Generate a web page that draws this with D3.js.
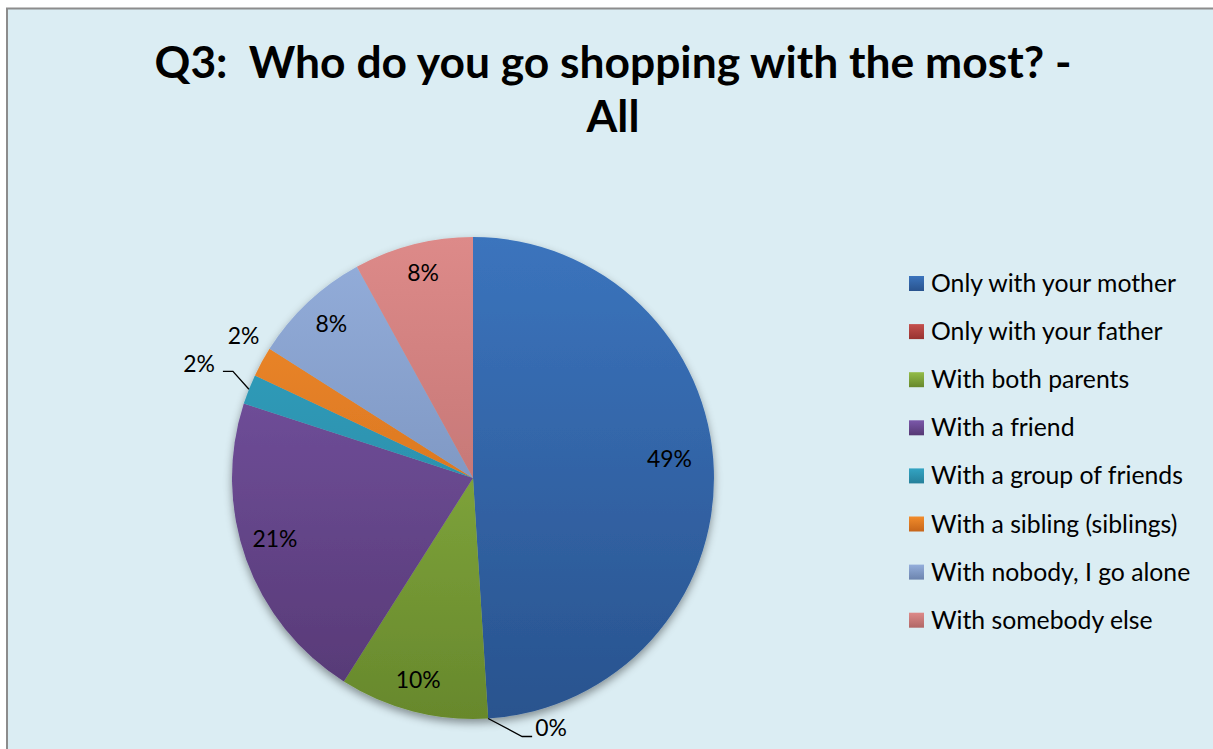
<!DOCTYPE html>
<html>
<head>
<meta charset="utf-8">
<script src="https://cdn.jsdelivr.net/npm/d3@7"></script>
<style>
  body { margin: 0; background: #ffffff; }
  svg { display: block; }
  text { font-family: Lato, "Open Sans", "Liberation Sans", sans-serif; fill: #000; }
</style>
</head>
<body>
<svg id="chart" width="1213" height="749"></svg>
<script>
// Survey answers, in pie order (clockwise from 12 o'clock)
const categories = [
  "Only with your mother",
  "Only with your father",
  "With both parents",
  "With a friend",
  "With a group of friends",
  "With a sibling (siblings)",
  "With nobody, I go alone",
  "With somebody else"
];
const percentValues = [49, 0, 10, 21, 2, 2, 8, 8];
const titleLines = ["Q3:  Who do you go shopping with the most? -", "All"];

// Slice shading: lighter at the top of the pie, darker at the bottom
const colorsTop    = ["#3b74bd", "#c4504d", "#93bc48", "#7b58aa", "#33a4c3", "#f28c2b", "#94aedb", "#dd8a89"];
const colorsBottom = ["#29538e", "#983230", "#67882c", "#553873", "#25809a", "#c6651a", "#6c84ae", "#b16766"];

const svg = d3.select("#chart");
const W = 1213, H = 749;

const defs = svg.append("defs");

// Chart area
svg.append("rect")
  .attr("x", 7).attr("y", 8.5)
  .attr("width", W + 20).attr("height", H + 20)
  .attr("fill", "#dbedf3")
  .attr("stroke", "#8c8c8c")
  .attr("stroke-width", 2);

// Title
const title = svg.append("g").attr("font-weight", "bold").attr("text-anchor", "middle");
const titleX = 613;
const t1 = title.append("text")
  .attr("x", titleX).attr("y", 78)
  .attr("font-size", 40)
  .style("white-space", "pre")
  .text(titleLines[0]);
const titleSize = 40 * 917 / t1.node().getComputedTextLength();
t1.attr("font-size", titleSize);
title.append("text")
  .attr("x", titleX).attr("y", 132)
  .attr("font-size", titleSize)
  .text(titleLines[1]);

// Pie geometry
const cx = 473, cy = 478, R = 241;

// Gradients live in the pie group's local space (centre at 0,0)
const grads = percentValues.map((v, i) => {
  const id = "slice-grad-" + i;
  const g = defs.append("linearGradient")
    .attr("id", id)
    .attr("gradientUnits", "userSpaceOnUse")
    .attr("x1", 0).attr("x2", 0)
    .attr("y1", -R).attr("y2", R);
  g.append("stop").attr("offset", "0%").attr("stop-color", colorsTop[i]);
  g.append("stop").attr("offset", "100%").attr("stop-color", colorsBottom[i]);
  return "url(#" + id + ")";
});

const legendGrads = percentValues.map((v, i) => {
  const id = "legend-grad-" + i;
  const g = defs.append("linearGradient")
    .attr("id", id)
    .attr("x1", 0).attr("x2", 0).attr("y1", 0).attr("y2", 1);
  g.append("stop").attr("offset", "0%").attr("stop-color", colorsTop[i]);
  g.append("stop").attr("offset", "100%").attr("stop-color", colorsBottom[i]);
  return "url(#" + id + ")";
});

const shadow = defs.append("filter")
  .attr("id", "pie-shadow")
  .attr("x", "-20%").attr("y", "-20%").attr("width", "140%").attr("height", "140%");
shadow.append("feDropShadow")
  .attr("dx", 0).attr("dy", 4)
  .attr("stdDeviation", 4)
  .attr("flood-color", "#000")
  .attr("flood-opacity", 0.4);

const pie = d3.pie().sort(null).value(d => d);
const arcs = pie(percentValues);
const arc = d3.arc().innerRadius(0).outerRadius(R);

const pieG = svg.append("g")
  .attr("transform", `translate(${cx},${cy})`);

pieG.append("g")
  .attr("filter", "url(#pie-shadow)")
  .selectAll("path")
  .data(arcs)
  .join("path")
  .attr("d", arc)
  .attr("fill", (d, i) => grads[i]);

// Data labels
const labelArc = d3.arc().innerRadius(R * 0.865).outerRadius(R * 0.865);
const labelFont = 22;
const probe = svg.append("text").attr("font-size", labelFont).text("49%");
const labelSize = labelFont * 45 / probe.node().getComputedTextLength();
probe.remove();

const pct = d => d.data + "%";
const mid = d => (d.startAngle + d.endAngle) / 2;
const edgePoint = (d, r) => [Math.sin(mid(d)) * r, -Math.cos(mid(d)) * r];

// How each label is placed: inside at the centroid, or outside (with an optional leader)
const labelLayout = [
  { mode: "inside", nudge: [-12, -13] },
  { mode: "leader", elbow: [34, 18], run: 10, side: "right" },
  { mode: "inside", nudge: [-3, 0] },
  { mode: "inside", nudge: [-2, -10] },
  { mode: "leader", elbow: [-16, -18], run: -10, side: "left" },
  { mode: "outside", radius: 1.12, nudge: [7, -12] },
  { mode: "inside", nudge: [1, -2] },
  { mode: "inside", nudge: [2, -3] }
];

const labelG = pieG.append("g").attr("font-size", labelSize);

arcs.forEach((d, i) => {
  const L = labelLayout[i];
  if (L.mode === "inside" || L.mode === "outside") {
    const p = L.mode === "inside" ? labelArc.centroid(d) : edgePoint(d, R * L.radius);
    labelG.append("text")
      .attr("x", p[0] + L.nudge[0])
      .attr("y", p[1] + L.nudge[1])
      .attr("dy", "0.36em")
      .attr("text-anchor", "middle")
      .text(pct(d));
  } else {
    const p = edgePoint(d, R);
    const e = [p[0] + L.elbow[0], p[1] + L.elbow[1]];
    const end = [e[0] + L.run, e[1]];
    labelG.append("path")
      .attr("d", d3.line()([p, e, end]))
      .attr("fill", "none")
      .attr("stroke", "#000")
      .attr("stroke-width", 1.3);
    if (L.side === "right") {
      labelG.append("text")
        .attr("x", end[0] + 3).attr("y", end[1] - 1)
        .attr("text-anchor", "start")
        .text(pct(d));
    } else {
      labelG.append("text")
        .attr("x", end[0] - 8).attr("y", end[1] + 1)
        .attr("text-anchor", "end")
        .text(pct(d));
    }
  }
});

// Legend
const legend = svg.append("g");
const legendX = 909, legendY0 = 283.5, legendStep = 48.1, sw = 15;
const lp = svg.append("text").attr("font-size", 22).text(categories[0]);
const legendSize = 22 * 245 / lp.node().getComputedTextLength();
lp.remove();

const rows = legend.selectAll("g")
  .data(categories)
  .join("g")
  .attr("transform", (d, i) => `translate(${legendX},${legendY0 + i * legendStep})`);
rows.append("rect")
  .attr("x", 0).attr("y", -sw / 2)
  .attr("width", sw).attr("height", sw)
  .attr("fill", (d, i) => legendGrads[i]);
rows.append("text")
  .attr("x", 22).attr("y", 8.5)
  .attr("font-size", legendSize)
  .text(d => d);
</script>
</body>
</html>
